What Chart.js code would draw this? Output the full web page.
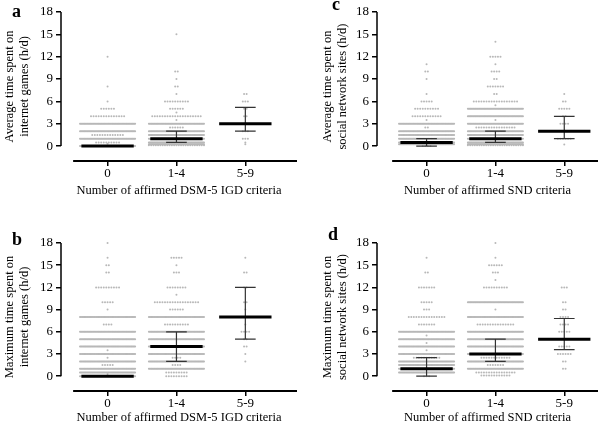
<!DOCTYPE html>
<html>
<head>
<meta charset="utf-8">
<script src="https://cdn.jsdelivr.net/npm/chart.js@4.4.0/dist/chart.umd.min.js"></script>
<style>
body { margin: 0; background: #fff; width: 602px; height: 426px; position: relative; overflow: hidden; }
canvas { position: absolute; }
.tag { position: absolute; font: bold 18px/18px 'Liberation Serif', serif; color: #000; }
</style>
</head>
<body>
<canvas id="pa" width="301" height="213" style="left:0;top:0"></canvas>
<canvas id="pc" width="301" height="213" style="left:301px;top:0"></canvas>
<canvas id="pb" width="301" height="213" style="left:0;top:213px"></canvas>
<canvas id="pd" width="301" height="213" style="left:301px;top:213px"></canvas>
<div class="tag" style="left:12px;top:2px">a</div>
<div class="tag" style="left:332px;top:-5px">c</div>
<div class="tag" style="left:12px;top:230px">b</div>
<div class="tag" style="left:328px;top:225px">d</div>
<script>
var groups = ['0', '1-4', '5-9'];
var S = 60; // rows so full the dots merge into a line

// a: average time on internet games
var aLevels = [
    [12, 8, 6, 5, 4, 3, 2, 1.5, 1, 0.5, 0.3, 0],
    [15, 10, 9, 8, 7, 6, 5, 4.5, 4, 3.5, 3, 2.5, 2, 1.5, 1, 0.5, 0.25, 0.1],
    [7, 6, 5, 4, 3, 2, 1, 0.5, 0.25]
];
var aCounts = [
    [1, 1, 1, 6, 14, S, S, 13, S, 10, 1, S],
    [1, 2, 1, 2, 1, 10, 6, 1, 20, 1, S, 6, S, S, S, S, S, 25],
    [2, 3, 2, 2, 4, 3, 3, 1, 1]
];
var aMedian = [0, 1, 3];
var aQ1 = [0, 0.5, 2];
var aQ3 = [0, 2, 5.2];

// b: maximum time on internet games
var bLevels = [
    [18, 16, 15, 14, 12, 10, 9, 8, 7, 6, 5, 4, 3.5, 3, 2.5, 2, 1.5, 1, 0.5, 0.3, 0],
    [16, 15, 14, 12, 11, 10, 9, 8, 7, 6, 5, 4, 3, 2.5, 2, 1.5, 1, 0.5, 0],
    [16, 14, 12, 10, 9, 8, 7, 6, 5, 4, 3, 2]
];
var bCounts = [
    [1, 1, 2, 2, 10, 5, 1, S, 4, S, S, S, 1, S, 1, S, 5, S, S, 1, S],
    [5, 1, 3, 8, 1, 18, 6, S, 10, S, S, S, S, 4, S, 4, S, 9, 9],
    [1, 2, 2, 2, 1, 3, 1, 4, 2, 2, 1, 1]
];
var bMedian = [0, 4, 8];
var bQ1 = [0, 2, 5];
var bQ3 = [0, 6, 12];

// c: average time on social network sites
var cLevels = [
    [11, 10, 9, 7, 6, 5, 4, 3.5, 3, 2.5, 2, 1.5, 1, 0.5, 0.25, 0],
    [14, 12, 11, 10, 9, 8, 7, 6, 5.5, 5, 4, 3.5, 3, 2.5, 2, 1.5, 1, 0.5, 0.25, 0.1],
    [7, 6, 5, 4, 3, 2, 1, 0.2]
];
var cCounts = [
    [1, 2, 1, 1, 5, 10, 12, 1, S, 2, S, S, S, S, S, 4],
    [1, 5, 1, 4, 2, 7, 2, 18, 1, S, S, 1, S, 16, S, S, S, S, S, 25],
    [1, 2, 5, 2, 4, 3, 6, 1]
];
var cMedian = [0.5, 1, 2];
var cQ1 = [0, 0.5, 1];
var cQ3 = [1, 2, 4];

// d: maximum time on social network sites
var dLevels = [
    [16, 14, 12, 10, 9, 8, 7, 6, 5.5, 5, 4.5, 4, 3.5, 3, 2.5, 2, 1.5, 1, 0.5, 0],
    [18, 16, 15, 14, 13, 12, 10, 9, 8, 7, 6, 5, 4, 3, 2.5, 2, 1.5, 1, 0.5, 0.1],
    [12, 10, 9, 8, 7, 6, 5, 4, 3, 2, 1]
];
var dCounts = [
    [1, 2, 7, 5, 3, 15, 7, S, 1, S, 1, S, 1, S, 11, S, S, S, S, 3],
    [1, 1, 6, 3, 1, 10, S, 1, S, 15, S, S, S, S, 12, S, 7, S, 16, 12],
    [3, 2, 2, 4, 4, 5, 3, 5, 6, 2, 2]
];
var dMedian = [1, 3, 5];
var dQ1 = [0, 2, 3.6];
var dQ3 = [2.5, 5, 7.8];

var serif = "'Liberation Serif', 'Times New Roman', serif";

// spread each row of equal values sideways round its column, like a dot plot
function dotRows(levels, counts) {
    var pts = [];
    for (var g = 0; g < levels.length; g++) {
        for (var i = 0; i < levels[g].length; i++) {
            var n = counts[g][i];
            var step = n > 1 ? Math.min(0.037, 0.8 / (n - 1)) : 0;
            for (var k = 0; k < n; k++) {
                pts.push({x: g + (k - (n - 1) / 2) * step, y: levels[g][i]});
            }
        }
    }
    return pts;
}

var summaryPlugin = {
    id: 'summary',
    afterDatasetsDraw: function (chart, args, opts) {
        var ctx = chart.ctx, xs = chart.scales.x, ys = chart.scales.y, area = chart.chartArea;
        ctx.save();
        ctx.strokeStyle = '#000';
        ctx.lineWidth = 1.5;
        ctx.beginPath();
        ctx.moveTo(area.left, ys.getPixelForValue(18));
        ctx.lineTo(area.left, ys.getPixelForValue(0));
        ctx.stroke();
        ctx.lineWidth = 2;
        ctx.beginPath();
        ctx.moveTo(xs.getPixelForValue(-0.5), area.bottom);
        ctx.lineTo(area.right, area.bottom);
        ctx.stroke();

        for (var g = 0; g < opts.median.length; g++) {
            if (opts.q3[g] > opts.q1[g]) {
                ctx.strokeStyle = '#333';
                ctx.lineWidth = 1.2;
                ctx.beginPath();
                ctx.moveTo(xs.getPixelForValue(g), ys.getPixelForValue(opts.q1[g]));
                ctx.lineTo(xs.getPixelForValue(g), ys.getPixelForValue(opts.q3[g]));
                [opts.q1[g], opts.q3[g]].forEach(function (v) {
                    ctx.moveTo(xs.getPixelForValue(g - 0.15), ys.getPixelForValue(v));
                    ctx.lineTo(xs.getPixelForValue(g + 0.15), ys.getPixelForValue(v));
                });
                ctx.stroke();
            }
            ctx.strokeStyle = '#000';
            ctx.lineWidth = 3;
            ctx.beginPath();
            ctx.moveTo(xs.getPixelForValue(g - 0.38), ys.getPixelForValue(opts.median[g]));
            ctx.lineTo(xs.getPixelForValue(g + 0.38), ys.getPixelForValue(opts.median[g]));
            ctx.stroke();
        }
        ctx.restore();
    }
};

function makeChart(id, levels, counts, median, q1, q3, yTitle, xTitle, geo) {
    return new Chart(document.getElementById(id), {
        type: 'scatter',
        data: {
            datasets: [{
                data: dotRows(levels, counts),
                pointRadius: 1,
                pointBorderWidth: 0,
                pointBackgroundColor: '#b8b8b8',
                clip: false
            }]
        },
        options: {
            responsive: false,
            animation: false,
            events: [],
            layout: {padding: {top: geo.top, left: 0, right: 2, bottom: 0}},
            plugins: {
                legend: {display: false},
                tooltip: {enabled: false},
                summary: {median: median, q1: q1, q3: q3}
            },
            scales: {
                x: {
                    type: 'linear',
                    min: geo.xMin,
                    max: geo.xMax,
                    afterBuildTicks: function (scale) {
                        scale.ticks = [{value: 0}, {value: 1}, {value: 2}];
                    },
                    afterFit: function (scale) { scale.height = geo.xHeight; },
                    border: {display: false},
                    grid: {drawOnChartArea: false, drawTicks: true, tickLength: 5, color: '#000', lineWidth: 1.5},
                    ticks: {
                        padding: 0,
                        color: '#000',
                        font: {family: serif, size: 13},
                        callback: function (v) { return groups[v]; }
                    },
                    title: {
                        display: true,
                        text: xTitle,
                        color: '#000',
                        font: {family: serif, size: 12.5, lineHeight: 1.2},
                        padding: {top: 0, bottom: geo.xTitlePad}
                    }
                },
                y: {
                    min: -2,
                    max: 18,
                    afterBuildTicks: function (scale) {
                        scale.ticks = [0, 3, 6, 9, 12, 15, 18].map(function (v) { return {value: v}; });
                    },
                    afterFit: function (scale) { scale.width = geo.yWidth; },
                    border: {display: false},
                    grid: {drawOnChartArea: false, drawTicks: true, tickLength: 5, color: '#000', lineWidth: 1.5},
                    ticks: {
                        padding: 3,
                        color: '#000',
                        font: {family: serif, size: 13}
                    },
                    title: {
                        display: true,
                        text: yTitle,
                        color: '#000',
                        font: {family: serif, size: 12.5, lineHeight: 1.2},
                        padding: {top: geo.yTitlePad, bottom: 0}
                    }
                }
            }
        },
        plugins: [summaryPlugin]
    });
}

var leftTop = {yWidth: 61, top: 12, xHeight: 52, xMin: -0.676, xMax: 2.75, yTitlePad: 2.5, xTitlePad: 15};
var rightTop = {yWidth: 76, top: 12, xHeight: 52, xMin: -0.72, xMax: 2.49, yTitlePad: 19.5, xTitlePad: 15};
var leftBot = {yWidth: 61, top: 30, xHeight: 35, xMin: -0.676, xMax: 2.75, yTitlePad: 2.5, xTitlePad: 1};
var rightBot = {yWidth: 76, top: 30, xHeight: 35, xMin: -0.72, xMax: 2.49, yTitlePad: 19.5, xTitlePad: 1};

makeChart('pa', aLevels, aCounts, aMedian, aQ1, aQ3,
    ['Average time spent on', 'internet games (h/d)'], 'Number of affirmed DSM-5 IGD criteria', leftTop);
makeChart('pc', cLevels, cCounts, cMedian, cQ1, cQ3,
    ['Average time spent on', 'social network sites (h/d)'], 'Number of affirmed SND criteria', rightTop);
makeChart('pb', bLevels, bCounts, bMedian, bQ1, bQ3,
    ['Maximum time spent on', 'internet games (h/d)'], 'Number of affirmed DSM-5 IGD criteria', leftBot);
makeChart('pd', dLevels, dCounts, dMedian, dQ1, dQ3,
    ['Maximum time spent on', 'social network sites (h/d)'], 'Number of affirmed SND criteria', rightBot);
</script>
</body>
</html>
